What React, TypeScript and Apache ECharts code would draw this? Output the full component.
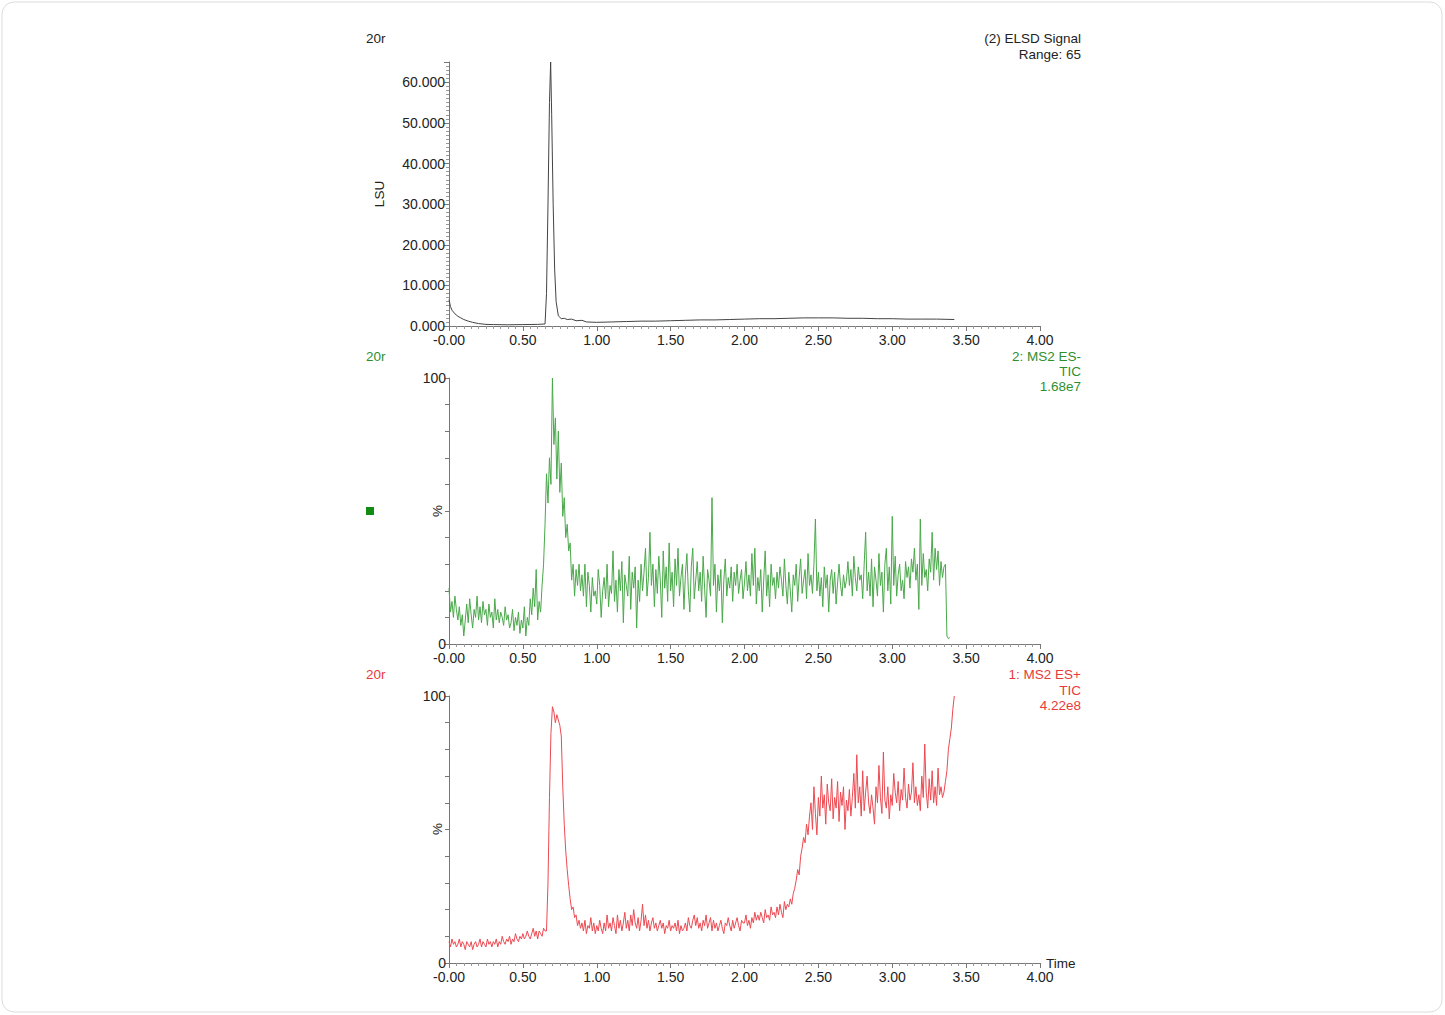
import React, { useEffect, useRef } from "react";
import * as echarts from "echarts";

// ---------- DATA ----------
const TIME_STEP = 0.01;

// (2) ELSD Signal, LSU
const elsdTimes = [
  0, 0.01, 0.02, 0.04, 0.06, 0.08, 0.1, 0.13, 0.16, 0.2, 0.25, 0.3, 0.4, 0.5, 0.6, 0.65,
  0.66, 0.67, 0.68, 0.688, 0.695, 0.705, 0.715, 0.725, 0.74, 0.76, 0.78, 0.8, 0.83, 0.86,
  0.9, 0.93, 1.0, 1.1, 1.2, 1.3, 1.4, 1.5, 1.6, 1.7, 1.8, 1.9, 2.0, 2.1, 2.2, 2.3, 2.4,
  2.5, 2.6, 2.7, 2.8, 2.9, 3.0, 3.1, 3.2, 3.3, 3.42,
];
const elsdValues = [
  6.5, 4.8, 3.9, 3.0, 2.4, 2.0, 1.6, 1.2, 0.9, 0.6, 0.4, 0.35, 0.3, 0.35, 0.4, 0.5,
  8, 30, 55, 65, 52, 30, 14, 6, 2.5, 1.8, 1.9, 1.6, 1.7, 1.3,
  1.4, 1.0, 0.9, 1.0, 1.1, 1.2, 1.2, 1.3, 1.4, 1.5, 1.5, 1.6, 1.7, 1.8, 1.8, 1.9, 2.0,
  2.0, 2.0, 1.9, 1.9, 1.8, 1.8, 1.7, 1.7, 1.7, 1.6,
];

// 2: MS2 ES- TIC (%), sampled every 0.01 min from 0.00
const esNegValues = [
  21, 12, 16, 10, 18, 13, 9, 14, 7, 11,
  3, 9, 15, 8, 17, 11, 6, 13, 10, 18,
  9, 14, 8, 16, 11, 13, 7, 15, 10, 12,
  6, 17, 9, 13, 8, 12, 10, 7, 14, 9,
  11, 6, 8, 13, 5, 10, 7, 12, 4, 9,
  6, 14, 3, 10, 7, 17, 11, 21, 14, 28,
  9, 16, 12, 22, 30, 45, 64, 53, 70, 60,
  100, 75, 85, 62, 80, 57, 68, 48, 55, 40,
  45, 35, 38, 24, 30, 18, 28, 22, 30, 20,
  26, 18, 30, 14, 27, 22, 12, 25, 18, 20,
  15, 28, 22, 10, 20, 25, 17, 30, 14, 22,
  19, 35, 16, 24, 12, 28, 20, 31, 8, 26,
  22, 18, 33, 13, 27, 21, 29, 6, 24, 16,
  30, 20, 27, 36, 18, 25, 42, 22, 30, 14,
  28, 19, 33, 24, 10, 35, 21, 29, 16, 38,
  20, 27, 14, 32, 22, 36, 18, 25, 30, 13,
  26, 34, 20, 12, 29, 36, 17, 24, 31, 20,
  27, 16, 33, 21, 10, 28, 24, 18, 55, 22,
  30, 12, 26, 20, 28, 8, 24, 32, 18, 25,
  21, 29, 16, 27, 22, 30, 19, 24, 28, 17,
  23, 31, 20, 26, 18, 34, 22, 36, 15, 25,
  20, 28, 12, 24, 35, 18, 26, 14, 30, 22,
  25, 17, 27, 21, 29, 24, 18, 32, 22, 15,
  27, 20, 12, 26, 22, 30, 16, 25, 32, 19,
  24, 28, 17, 34, 22, 26, 19, 30, 47, 20,
  27, 18, 25, 14, 29, 21, 26, 12, 24, 28,
  19, 27, 15, 23, 30, 22, 18, 26, 21, 24,
  31, 22, 28, 18, 33, 25, 20, 29, 24, 26,
  17, 30, 42, 20, 27, 18, 32, 14, 29, 24,
  18, 34, 22, 27, 12, 30, 36, 20, 29, 15,
  48, 22, 33, 18, 26, 30, 20, 24, 17, 31,
  25, 29, 21, 32, 27, 36, 24, 30, 13, 47,
  22, 34, 25, 28, 20, 32, 27, 42, 24, 36,
  28, 35, 22, 31, 25, 29, 30, 3, 2, 2.5,
];

// 1: MS2 ES+ TIC (%), sampled every 0.01 min from 0.00
const esPosValues = [
  8, 6, 9, 7, 8, 6, 7, 9, 6, 8,
  7, 5, 8, 7, 6, 8, 5, 7, 8, 6,
  7, 9, 6, 8, 7, 6, 9, 7, 8, 6,
  8, 7, 9, 6, 8, 7, 10, 8, 7, 9,
  8, 10, 7, 9, 8, 11, 9, 8, 10, 9,
  11, 9, 10, 12, 10, 9, 11, 13, 10, 12,
  9, 12, 11, 10, 13, 12, 12, 30, 62, 86,
  96, 94, 90, 93, 91, 89, 85, 66, 52, 42,
  35, 29, 24, 20, 21, 17, 18, 14, 16, 13,
  15, 12, 16, 11, 14, 13, 17, 12, 15, 11,
  14, 12, 16, 13, 11, 15, 12, 18, 13, 15,
  12, 17, 14, 11, 18, 13, 16, 12, 15, 19,
  13, 16, 12, 18, 14, 20, 15, 13, 17, 12,
  16, 22, 14, 18, 13, 16, 12, 15, 17, 13,
  15, 12, 14, 16, 13, 15, 11, 14, 13, 16,
  12, 14, 13, 15, 12, 16, 11, 14, 12, 13,
  15, 12, 17, 14, 13, 16, 18, 14, 17, 13,
  15, 12, 16, 14, 18, 13, 15, 17, 12, 16,
  13, 15, 12, 14, 16, 13, 11, 15, 14, 17,
  14, 12, 16, 13, 15, 17, 14, 12, 16, 15,
  15, 18, 14, 16, 13, 17, 15, 19, 16, 18,
  16, 19, 17, 15, 20, 17, 18, 16, 21, 18,
  19, 17, 21, 18, 22, 19, 17, 23, 20, 22,
  21, 24, 22, 26, 28, 31, 35, 33, 40, 43,
  47, 45, 52, 48, 55, 60, 50, 66, 56, 48,
  62, 55, 70, 58, 63, 52, 67, 60, 57, 69,
  54, 62, 58, 68, 53, 64, 59, 66, 50, 61,
  57, 65, 55, 62, 71, 58, 78, 60, 66, 55,
  72, 57, 64, 70, 60, 56, 63, 58, 52, 66,
  60, 74, 62, 56, 79, 61, 58, 66, 54, 63,
  59, 71, 64, 60, 68, 57, 65, 61, 73, 62,
  58, 67, 61, 64, 75, 60, 66, 59, 63, 57,
  70, 62, 82, 64, 58, 69, 61, 72, 60, 66,
  59, 73, 63, 66, 62, 64, 68, 72, 80, 84,
  88, 95, 100,
];

// ---------- STYLE ----------
const FONT = "'Liberation Sans', Arial, Helvetica, sans-serif";
const BLACK = "#222222";
const GREEN = "#2f8f2f";
const GREEN_LINE = "#4aa84a";
const RED = "#e83a3a";
const RED_LINE = "#ec4a52";
const AXIS = "#777777";
const TICK_FONT = 14;

const GRID_LEFT = 449;
const GRID_RIGHT = 405;

const fmtX = (v: number) => (v === 0 ? "-0.00" : v.toFixed(2));

function makeXAxis(gridIndex: number) {
  return {
    type: "value",
    gridIndex,
    min: 0,
    max: 4,
    interval: 0.5,
    axisLine: { show: true, onZero: false, lineStyle: { color: AXIS, width: 1 } },
    axisTick: { show: true, length: 5, lineStyle: { color: AXIS } },
    minorTick: { show: true, splitNumber: 10, length: 3, lineStyle: { color: "#999999" } },
    splitLine: { show: false },
    minorSplitLine: { show: false },
    axisLabel: {
      color: BLACK,
      fontSize: TICK_FONT,
      fontFamily: FONT,
      margin: 7,
      formatter: fmtX,
    },
  };
}

export default function App() {
  const ref = useRef<HTMLDivElement>(null);

  useEffect(() => {
    if (!ref.current) return;
    const chart = echarts.init(ref.current, null, { renderer: "svg" });

    const elsdData = elsdTimes.map((t, i) => [t, elsdValues[i]]);
    const negData = esNegValues.map((v, i) => [+(i * TIME_STEP).toFixed(2), v]);
    const posData = esPosValues.map((v, i) => [+(i * TIME_STEP).toFixed(2), v]);

    const pctAxis = (gridIndex: number) => ({
      type: "value",
      gridIndex,
      min: 0,
      max: 100,
      interval: 10,
      axisLine: { show: true, lineStyle: { color: AXIS, width: 1 } },
      axisTick: { show: true, length: 4, lineStyle: { color: AXIS } },
      splitLine: { show: false },
      axisLabel: {
        color: BLACK,
        fontSize: TICK_FONT,
        fontFamily: FONT,
        margin: 3,
        formatter: (v: number) => (v === 0 || v === 100 ? String(v) : ""),
      },
    });

    const text = (x: number, y: number, str: string, color: string, align = "left") => ({
      type: "text",
      x,
      y,
      style: {
        text: str,
        fill: color,
        font: `13.5px ${FONT}`,
        textAlign: align,
        textVerticalAlign: "middle",
      },
    });

    const rotText = (x: number, y: number, str: string) => ({
      type: "text",
      x,
      y,
      rotation: Math.PI / 2,
      style: {
        text: str,
        fill: BLACK,
        font: `13.5px ${FONT}`,
        textAlign: "center",
        textVerticalAlign: "middle",
      },
    });

    chart.setOption({
      animation: false,
      backgroundColor: "#ffffff",
      grid: [
        { left: GRID_LEFT, right: GRID_RIGHT, top: 62, height: 264 },
        { left: GRID_LEFT, right: GRID_RIGHT, top: 378, height: 266 },
        { left: GRID_LEFT, right: GRID_RIGHT, top: 696, height: 267 },
      ],
      xAxis: [makeXAxis(0), makeXAxis(1), makeXAxis(2)],
      yAxis: [
        {
          type: "value",
          gridIndex: 0,
          min: 0,
          max: 65,
          interval: 10,
          name: "LSU",
          nameLocation: "middle",
          nameRotate: 90,
          nameGap: 63,
          nameTextStyle: { color: BLACK, fontSize: 13.5, fontFamily: FONT },
          axisLine: { show: true, lineStyle: { color: AXIS, width: 1 } },
          axisTick: { show: true, length: 5, lineStyle: { color: AXIS } },
          minorTick: { show: true, splitNumber: 10, length: 3, lineStyle: { color: "#999999" } },
          splitLine: { show: false },
          minorSplitLine: { show: false },
          axisLabel: {
            color: BLACK,
            fontSize: TICK_FONT,
            fontFamily: FONT,
            margin: 4,
            formatter: (v: number) => (v > 60 ? "" : v.toFixed(3)),
          },
        },
        pctAxis(1),
        pctAxis(2),
      ],
      series: [
        {
          type: "line",
          xAxisIndex: 0,
          yAxisIndex: 0,
          data: elsdData,
          showSymbol: false,
          symbol: "none",
          lineStyle: { color: "#444444", width: 1 },
          silent: true,
        },
        {
          type: "line",
          xAxisIndex: 1,
          yAxisIndex: 1,
          data: negData,
          showSymbol: false,
          symbol: "none",
          lineStyle: { color: GREEN_LINE, width: 1 },
          silent: true,
        },
        {
          type: "line",
          xAxisIndex: 2,
          yAxisIndex: 2,
          data: posData,
          showSymbol: false,
          symbol: "none",
          lineStyle: { color: RED_LINE, width: 1 },
          silent: true,
        },
      ],
      graphic: [
        {
          type: "rect",
          shape: { x: 2, y: 2, width: 1440, height: 1010, r: 12 },
          style: { fill: "none", stroke: "#dcdcdc", lineWidth: 1 },
          silent: true,
        },
        text(366, 38, "20r", BLACK),
        text(1081, 38, "(2) ELSD Signal", BLACK, "right"),
        text(1081, 54, "Range: 65", BLACK, "right"),
        text(366, 356, "20r", GREEN),
        text(1081, 356, "2: MS2 ES-", GREEN, "right"),
        text(1081, 371, "TIC", GREEN, "right"),
        text(1081, 386, "1.68e7", GREEN, "right"),
        rotText(437, 511, "%"),
        {
          type: "rect",
          shape: { x: 366, y: 507, width: 8, height: 8 },
          style: { fill: "#138a13" },
          silent: true,
        },
        text(366, 674, "20r", RED),
        text(1081, 674, "1: MS2 ES+", RED, "right"),
        text(1081, 690, "TIC", RED, "right"),
        text(1081, 705, "4.22e8", RED, "right"),
        rotText(437, 829, "%"),
        text(1046, 963, "Time", BLACK),
      ],
    });

    return () => chart.dispose();
  }, []);

  return (
    <div
      ref={ref}
      style={{ position: "fixed", left: 0, top: 0, width: 1445, height: 1015, background: "#ffffff" }}
    />
  );
}
